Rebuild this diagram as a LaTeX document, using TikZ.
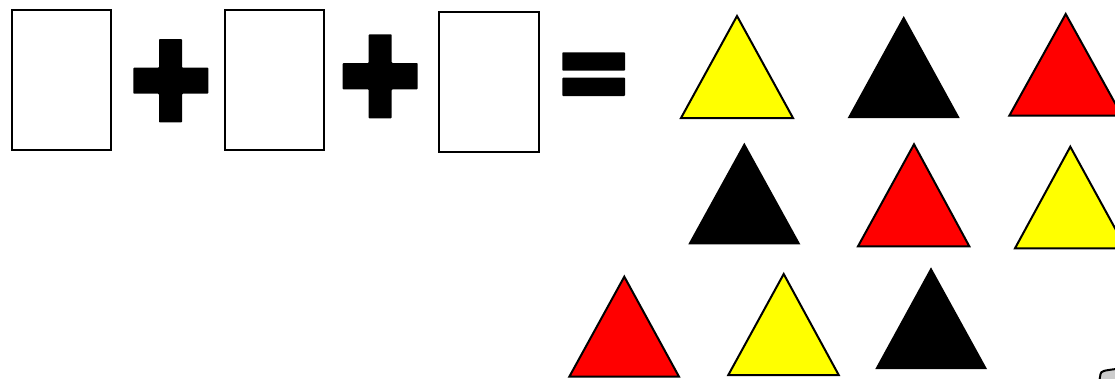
\documentclass[tikz,border=0pt]{standalone}
\definecolor{ylw}{RGB}{255,255,0}
\definecolor{rd}{RGB}{255,0,0}
\begin{document}
\begin{tikzpicture}[x=1pt,y=-1pt,
  box/.style={draw=black,line width=2pt,fill=white},
  sym/.style={fill=black,rounded corners=0.8pt},
  tri/.style={draw=black,line width=2pt,line join=miter}]
\useasboundingbox (0,0) rectangle (1115,378);
\fill[white] (0,0) rectangle (1115,378);
% boxes
\draw[box] (12.3,10) rectangle (111.3,149.5);
\draw[box] (225.3,10) rectangle (324.3,149.5);
\draw[box] (439.3,12) rectangle (538.5,152);
% plus signs
\fill[sym] (159,39) -- (182,39) -- (182,67.7) -- (208.3,67.7) -- (208.3,93.7) -- (182,93.7) -- (182,122.3) -- (159,122.3) -- (159,93.7) -- (133.3,93.7) -- (133.3,67.7) -- (159,67.7) -- cycle;
\fill[sym] (368.7,34.3) -- (391.7,34.3) -- (391.7,63) -- (417.7,63) -- (417.7,89.3) -- (391.7,89.3) -- (391.7,118.3) -- (368.7,118.3) -- (368.7,89.3) -- (342.7,89.3) -- (342.7,63) -- (368.7,63) -- cycle;
% equals
\fill[sym] (562.3,52.3) rectangle (625,70.7);
\fill[sym] (562.3,77.7) rectangle (625,96);
% triangles row 1
\draw[tri,fill=ylw] (737,16) -- (793,118) -- (681,118) -- cycle;
\fill[black] (903.7,16) -- (959.7,118) -- (847.7,118) -- cycle;
\draw[tri,fill=rd] (1065.7,14) -- (1122,115.7) -- (1009.3,115.7) -- cycle;
% row 2
\fill[black] (744.3,142.7) -- (800.3,244.3) -- (688.3,244.3) -- cycle;
\draw[tri,fill=rd] (914,144.3) -- (969.3,246.3) -- (858,246.3) -- cycle;
\draw[tri,fill=ylw] (1070.3,146.7) -- (1126,248.3) -- (1015,248.3) -- cycle;
% row 3
\draw[tri,fill=rd] (624.3,276.7) -- (679,376.7) -- (569.3,376.7) -- cycle;
\draw[tri,fill=ylw] (783.7,274) -- (838.7,375) -- (728.3,375) -- cycle;
\fill[black] (931,267.3) -- (987,369) -- (875.3,369) -- cycle;
% partial shape at bottom right
\draw[line width=2pt,fill=black!20] (1099.5,380) -- (1100.5,374) .. controls (1101,371) and (1104,370.5) .. (1116,369) -- (1116,380);
\end{tikzpicture}
\end{document}
